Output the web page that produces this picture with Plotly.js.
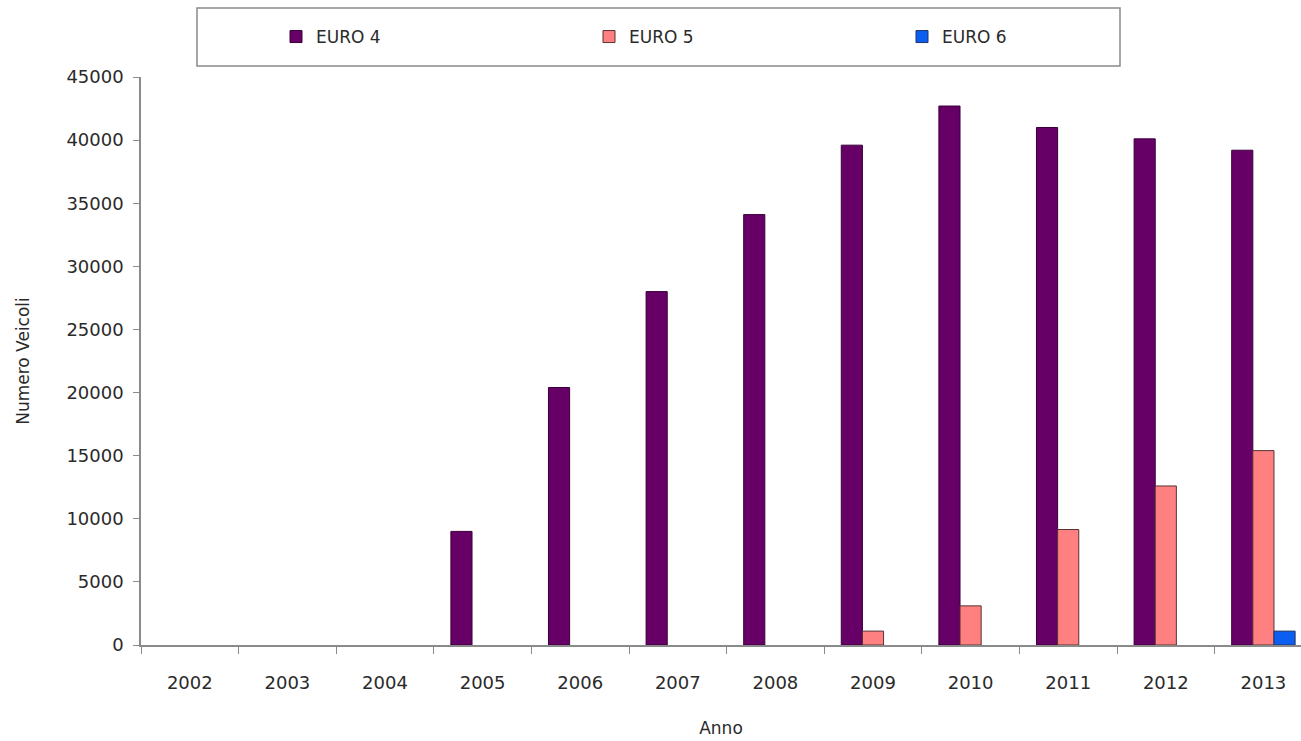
<!DOCTYPE html>
<html>
<head>
<meta charset="utf-8">
<script src="https://cdn.plot.ly/plotly-3.0.1.min.js"></script>
<style>html,body{margin:0;padding:0;background:#fff;}#chart{width:1301px;height:741px;}</style>
</head>
<body>
<div id="chart"></div>
<script>
const years = ['2002','2003','2004','2005','2006','2007','2008','2009','2010','2011','2012','2013'];
const euro4 = [null, null, null, 9000, 20400, 28000, 34100, 39600, 42700, 41000, 40100, 39200];
const euro5 = [null, null, null, null, null, null, null, 1100, 3100, 9150, 12600, 15400];
const euro6 = [null, null, null, null, null, null, null, null, null, null, null, 1100];
const seriesNames = ['EURO 4', 'EURO 5', 'EURO 6'];
const yTitle = 'Numero Veicoli';
const xTitle = 'Anno';

const font = 'DejaVu Sans, Liberation Sans, Arial, sans-serif';
const textColor = '#2a2a2a';
const colors = ['#660066', '#ff8080', '#0a5ff0'];
const lines = ['#3a003a', '#553333', '#223366'];
const data = [euro4, euro5, euro6].map((vals, i) => ({
  type: 'bar',
  name: seriesNames[i],
  x: years,
  y: vals,
  marker: {color: colors[i], line: {color: lines[i], width: 1}},
  hoverinfo: 'x+y+name'
}));

const L = 141, R = 1301, T = 77, B = 645;
const W = R - L, H = B - T;
const px = v => (v - L) / W;
const py = v => (B - v) / H;

const layout = {
  width: 1301, height: 741,
  margin: {l: L, r: 1301 - R, t: T, b: 741 - B, pad: 0},
  paper_bgcolor: '#ffffff',
  plot_bgcolor: '#ffffff',
  font: {family: font, size: 17, color: textColor},
  barmode: 'group',
  bargap: 0.35,
  bargroupgap: 0,
  showlegend: true,
  legend: {
    orientation: 'h',
    x: px(276), xanchor: 'left',
    y: py(37), yanchor: 'middle',
    bgcolor: 'rgba(0,0,0,0)',
    borderwidth: 0,
    entrywidth: 268,
    entrywidthmode: 'pixels',
    font: {family: font, size: 17, color: textColor},
    itemclick: false
  },
  shapes: [{
    type: 'rect', xref: 'paper', yref: 'paper',
    x0: px(197), x1: px(1120), y0: py(66), y1: py(8),
    line: {color: '#8a8a8a', width: 1.5},
    fillcolor: 'rgba(0,0,0,0)'
  }],
  xaxis: {
    type: 'category',
    range: [-0.5, -0.5 + W / 97.6],
    showgrid: false,
    zeroline: false,
    showline: true,
    linecolor: '#8a8a8a',
    linewidth: 1.5,
    ticks: 'outside',
    tickson: 'boundaries',
    ticklen: 7,
    tickcolor: '#8a8a8a',
    ticklabelstandoff: 21,
    tickfont: {family: font, size: 18, color: textColor},
    title: {text: xTitle, font: {family: font, size: 17, color: textColor}, standoff: 30},
    fixedrange: true
  },
  yaxis: {
    range: [0, 45000],
    dtick: 5000,
    tick0: 0,
    tickformat: 'd',
    showgrid: false,
    zeroline: false,
    showline: true,
    linecolor: '#8a8a8a',
    linewidth: 1.5,
    ticks: 'outside',
    ticklen: 6,
    tickcolor: '#8a8a8a',
    ticklabelstandoff: 6,
    tickfont: {family: font, size: 18, color: textColor},
    title: {text: yTitle, font: {family: font, size: 17, color: textColor}, standoff: 32},
    fixedrange: true
  }
};

Plotly.newPlot('chart', data, layout, {displayModeBar: false});
</script>
</body>
</html>
